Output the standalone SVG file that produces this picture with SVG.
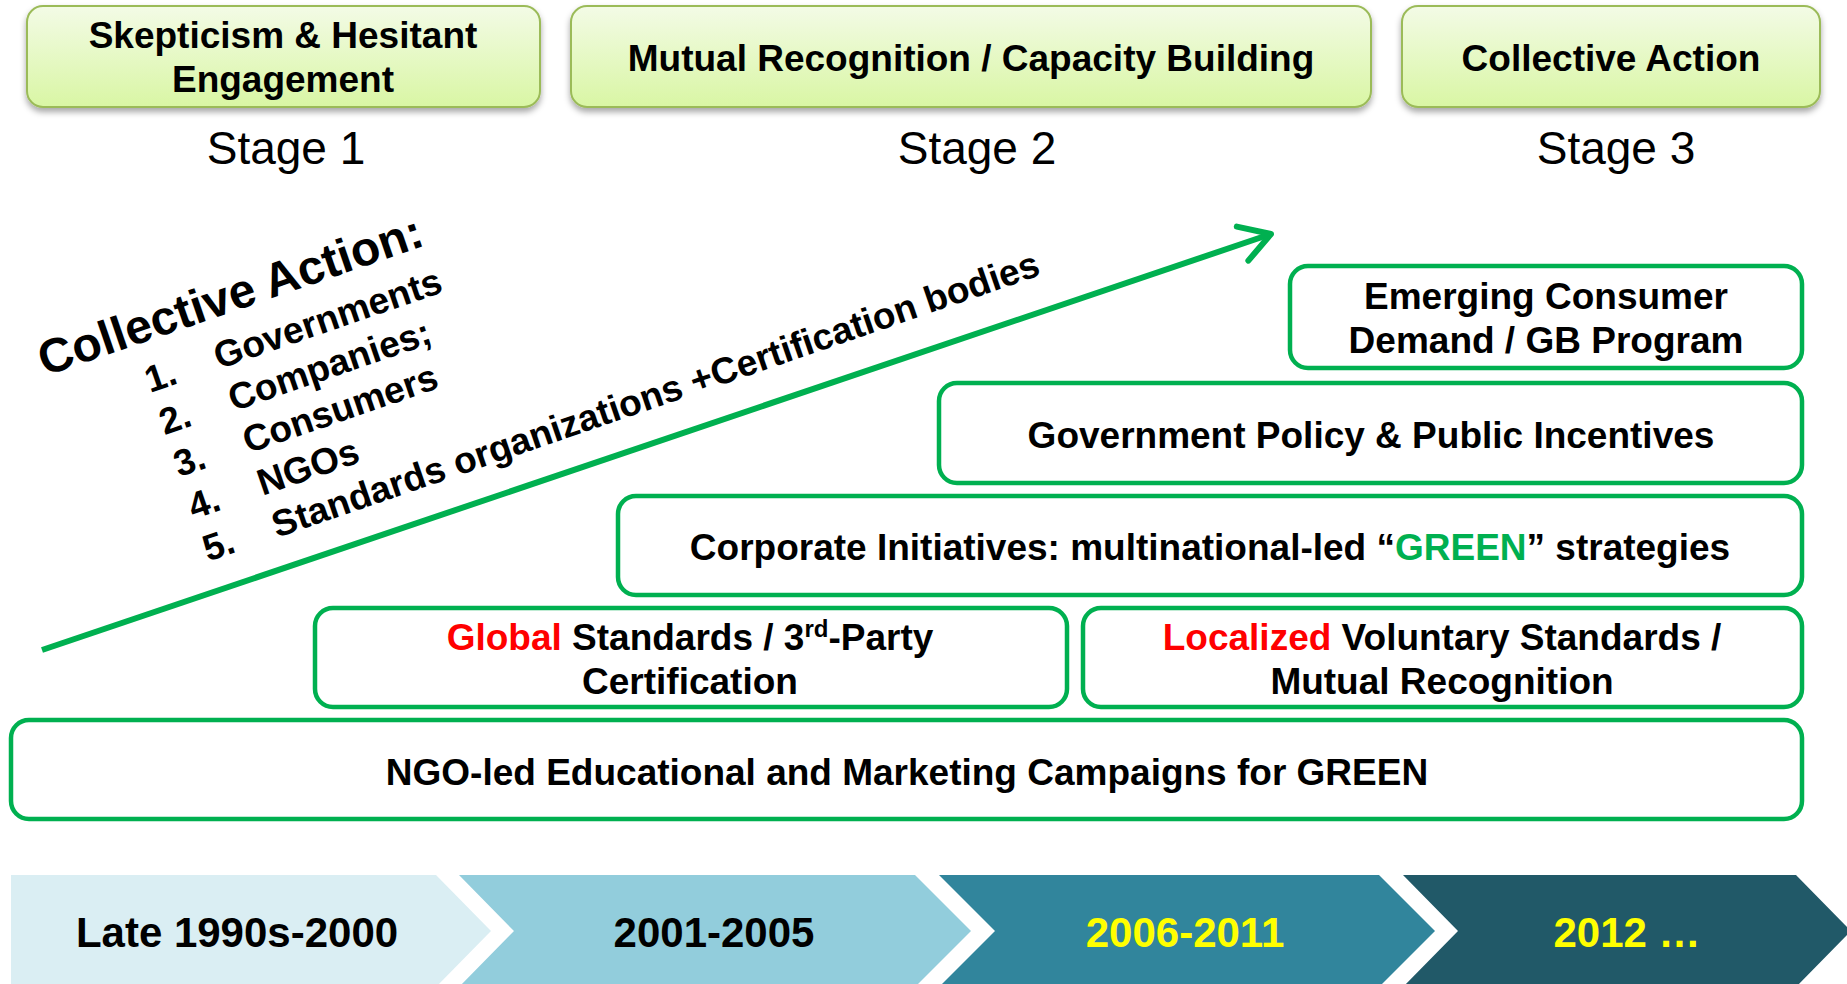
<svg xmlns="http://www.w3.org/2000/svg" width="1847" height="984" viewBox="0 0 1847 984">
  <defs>
    <linearGradient id="topFill" x1="0" y1="0" x2="0" y2="1">
      <stop offset="0" stop-color="#F3FBE6"/>
      <stop offset="1" stop-color="#D9F6A4"/>
    </linearGradient>
    <filter id="shadow" x="-5%" y="-20%" width="110%" height="150%">
      <feDropShadow dx="0" dy="4" stdDeviation="3" flood-color="#000" flood-opacity="0.35"/>
    </filter>
    <marker id="ah" markerUnits="userSpaceOnUse" viewBox="-40 -25 50 50" markerWidth="50" markerHeight="50" refX="0" refY="0" orient="auto" overflow="visible">
      <path d="M-30,-18 L0,0 L-30,18" fill="none" stroke="#00B050" stroke-width="6" stroke-linecap="round" stroke-linejoin="round"/>
    </marker>
    <style>
      text { font-family: "Liberation Sans", Arial, sans-serif; fill: #000; }
      .b { font-weight: bold; font-size: 37px; }
      .stage { font-size: 46px; text-anchor: middle; }
      .top { fill: url(#topFill); stroke: #9BBB59; stroke-width: 2; filter: url(#shadow); }
      .gbox { fill: #fff; stroke: #00B050; stroke-width: 4.5; }
      .mid { text-anchor: middle; }
      .red { fill: #FF0000; }
      .grn { fill: #00B050; }
      .yel { fill: #FFFF00; }
      .yr { font-weight: bold; font-size: 42px; text-anchor: middle; }
      .rot { font-weight: bold; font-size: 37px; }
    </style>
  </defs>
  <rect width="1847" height="984" fill="#fff"/>

  <!-- Stage header boxes -->
  <g id="stage1-box">
    <rect class="top" x="27" y="6" width="513" height="101" rx="16"/>
    <text class="b mid" x="283" y="48">Skepticism &amp; Hesitant</text>
    <text class="b mid" x="283" y="92">Engagement</text>
  </g>
  <g id="stage2-box">
    <rect class="top" x="571" y="6" width="800" height="101" rx="16"/>
    <text class="b mid" x="971" y="71">Mutual Recognition / Capacity Building</text>
  </g>
  <g id="stage3-box">
    <rect class="top" x="1402" y="6" width="418" height="101" rx="16"/>
    <text class="b mid" x="1611" y="71">Collective Action</text>
  </g>

  <g id="stage-labels">
    <text class="stage" x="286" y="164">Stage 1</text>
    <text class="stage" x="977" y="164">Stage 2</text>
    <text class="stage" x="1616" y="164">Stage 3</text>
  </g>

  <!-- Connectors -->
  <g id="connectors">
    <line x1="42" y1="650" x2="1271" y2="234" stroke="#00B050" stroke-width="6" marker-end="url(#ah)"/>
  </g>

  <!-- Rotated collective action list -->
  <g id="collective-list" transform="translate(150,393) rotate(-19)">
    <text x="-94" y="-50" font-weight="bold" font-size="48">Collective Action:</text>
    <text class="rot" x="0" y="0">1.</text>
    <text class="rot" x="73" y="0">Governments</text>
    <text class="rot" x="0" y="44.6">2.</text>
    <text class="rot" x="73" y="44.6">Companies;</text>
    <text class="rot" x="0" y="89.2">3.</text>
    <text class="rot" x="73" y="89.2">Consumers</text>
    <text class="rot" x="0" y="133.8">4.</text>
    <text class="rot" x="73" y="133.8">NGOs</text>
    <text class="rot" x="0" y="178.4">5.</text>
    <text class="rot" x="73" y="178.4">Standards organizations +Certification bodies</text>
  </g>

  <!-- Layer boxes -->
  <g id="emerging">
    <rect class="gbox" x="1290" y="266" width="512" height="102" rx="18"/>
    <text class="b mid" x="1546" y="309">Emerging Consumer</text>
    <text class="b mid" x="1546" y="353">Demand / GB Program</text>
  </g>
  <g id="government">
    <rect class="gbox" x="939" y="383" width="863" height="100" rx="18"/>
    <text class="b mid" x="1371" y="448">Government Policy &amp; Public Incentives</text>
  </g>
  <g id="corporate">
    <rect class="gbox" x="618" y="496" width="1184" height="99" rx="18"/>
    <text class="b mid" x="1210" y="560">Corporate Initiatives: multinational-led “<tspan class="grn">GREEN</tspan>” strategies</text>
  </g>
  <g id="global">
    <rect class="gbox" x="315" y="608" width="752" height="99" rx="18"/>
    <text class="b mid" x="690" y="650"><tspan class="red">Global</tspan> Standards / 3<tspan font-size="24" dy="-13">rd</tspan><tspan dy="13">-Party</tspan></text>
    <text class="b mid" x="690" y="694">Certification</text>
  </g>
  <g id="localized">
    <rect class="gbox" x="1083" y="608" width="719" height="99" rx="18"/>
    <text class="b mid" x="1442" y="650"><tspan class="red">Localized</tspan> Voluntary Standards /</text>
    <text class="b mid" x="1442" y="694">Mutual Recognition</text>
  </g>
  <g id="ngo">
    <rect class="gbox" x="11" y="720" width="1791" height="99" rx="18"/>
    <text class="b mid" x="907" y="785">NGO-led Educational and Marketing Campaigns for GREEN</text>
  </g>

  <!-- Timeline chevrons -->
  <g id="period1">
    <polygon points="11,875 436,875 491,931 436,987 11,987" fill="#DAEEF3"/>
    <text class="yr" x="237" y="947">Late 1990s-2000</text>
  </g>
  <g id="period2">
    <polygon points="459,875 915,875 971,931 915,987 459,987 514,931" fill="#92CDDC"/>
    <text class="yr" x="714" y="947">2001-2005</text>
  </g>
  <g id="period3">
    <polygon points="939,875 1379,875 1435,931 1379,987 939,987 995,931" fill="#31859C"/>
    <text class="yr yel" x="1185" y="947">2006-2011</text>
  </g>
  <g id="period4">
    <polygon points="1403,875 1796,875 1851,931 1796,987 1403,987 1458,931" fill="#215968"/>
    <text class="yr yel" x="1627" y="947">2012 …</text>
  </g>
</svg>
